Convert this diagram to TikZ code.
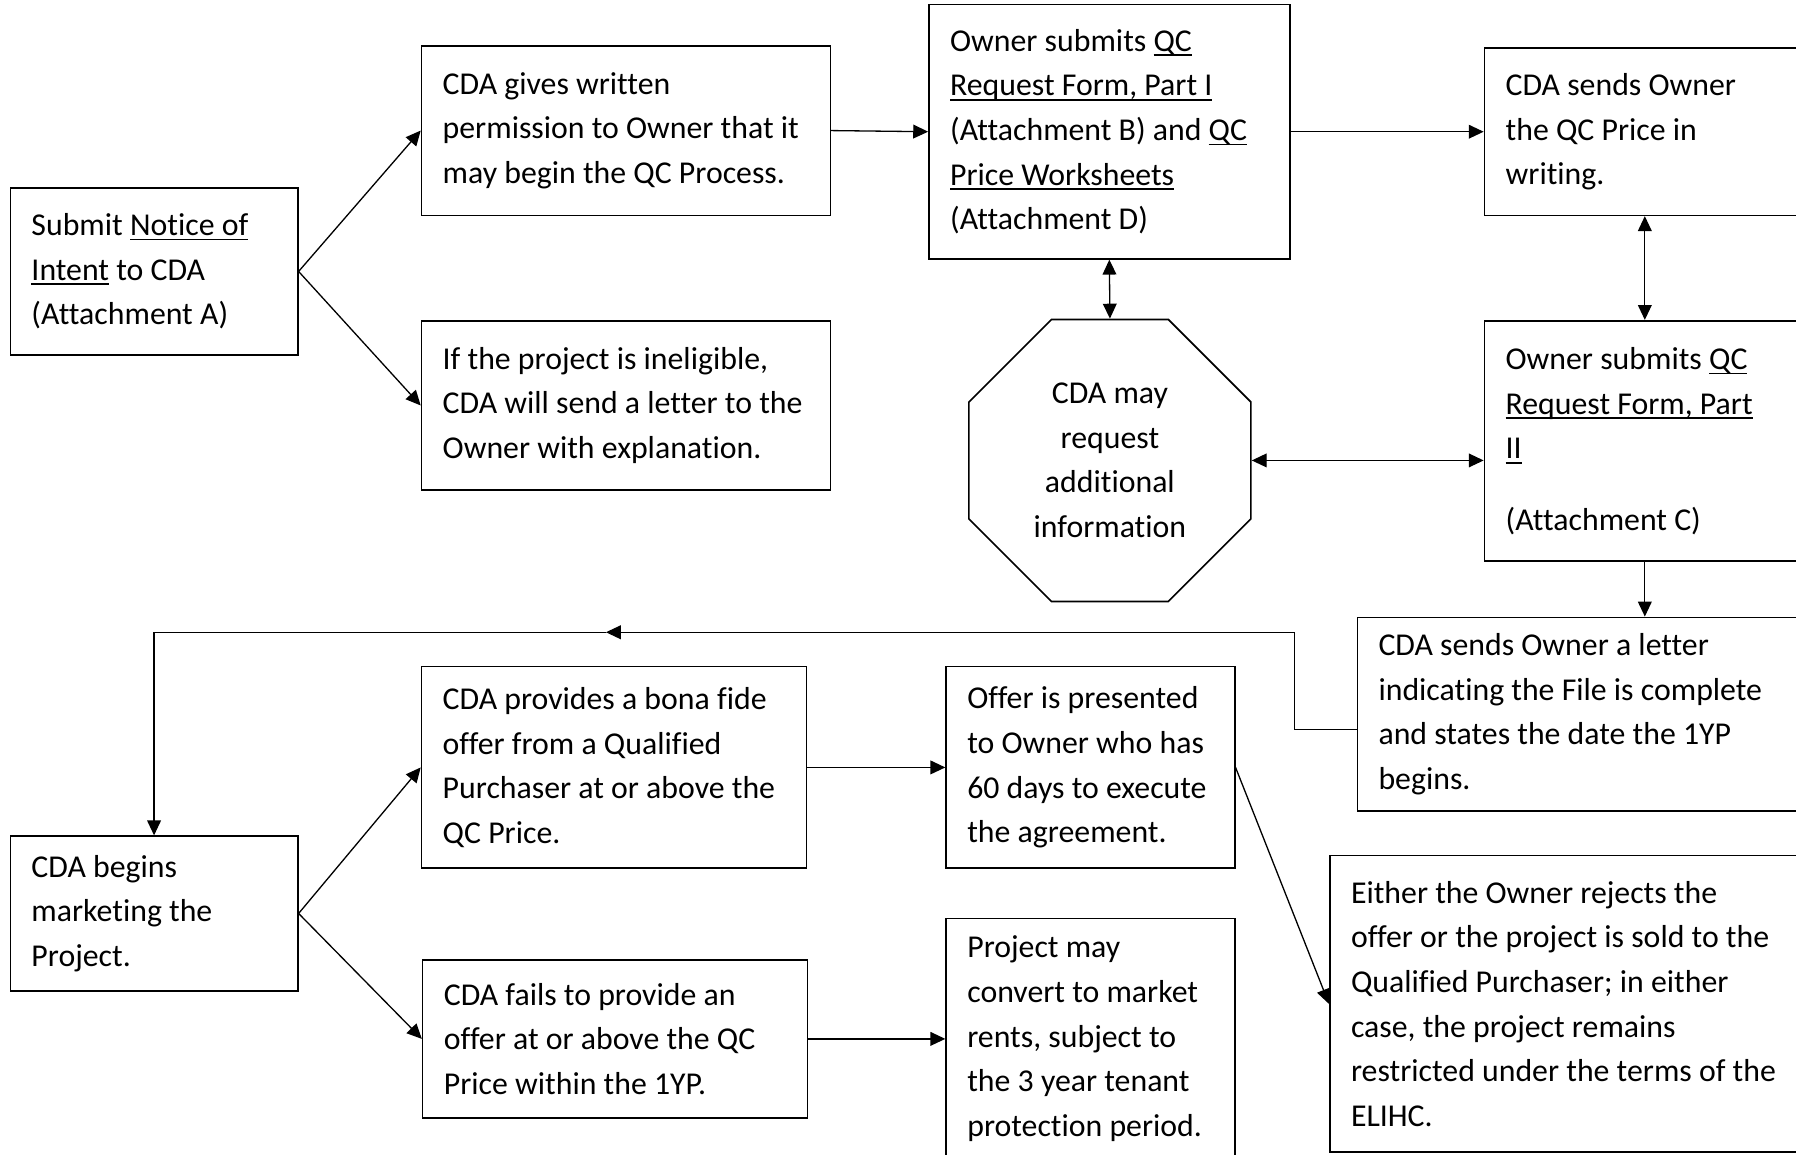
\documentclass[tikz,border=0pt]{standalone}
\usepackage{fontspec}
\setmainfont{Carlito}[Ligatures=NoCommon]
\usetikzlibrary{shapes.geometric,arrows.meta,calc}
\newcommand{\undl}[1]{\leavevmode\setbox0=\hbox{#1}\rlap{\rule[-2.4pt]{\wd0}{0.9pt}}\box0\relax}
\tikzset{
	box/.style={draw, line width=0.8pt, align=left, inner xsep=0.37cm, inner ysep=0.1cm, font=\fontsize{15.8}{22.2}\selectfont, execute at begin node={\spaceskip=0pt\xspaceskip=0pt}},
	link/.style={line width=0.65pt, -{Triangle[length=0.26cm,width=0.24cm]}},
	twoway/.style={line width=0.65pt, {Triangle[length=0.26cm,width=0.24cm]}-{Triangle[length=0.26cm,width=0.24cm]}}
}
\begin{document}
\begin{tikzpicture}
		\useasboundingbox (0, 0) rectangle (31.36, -20.16);
		\clip (0, 0) rectangle (31.36, -20.16);
		
		\node[box, text width=4.28cm, minimum height=2.92cm] (notice) at (2.69, -4.74) {Submit \undl{Notice of}\\\undl{Intent} to CDA\\(Attachment A)};
		\node[box, text width=6.40cm, minimum height=2.96cm] (permit) at (10.93, -2.28) {CDA gives written\\permission to Owner that it\\may begin the QC Process.};
		\node[box, text width=6.40cm, minimum height=2.96cm] (inelig) at (10.93, -7.08) {If the project is ineligible,\\CDA will send a letter to the\\Owner with explanation.};
		\node[box, text width=5.56cm, minimum height=4.44cm] (part1) at (19.37, -2.30) {Owner submits \undl{QC}\\\undl{Request Form, Part I}\\(Attachment B) and \undl{QC}\\\undl{Price Worksheets}\\(Attachment D)};
		\node[box, text width=4.86cm, minimum height=2.92cm] (price) at (28.72, -2.30) {CDA sends Owner\\the QC Price in\\writing.};
		\node[draw, line width=0.8pt, regular polygon, regular polygon sides=8, minimum size=5.33cm, align=center, font=\fontsize{15.8}{22.2}\selectfont] (moreinfo) at (19.38, -8.04) {CDA may\\request\\additional\\information};
		\node[box, text width=4.86cm, minimum height=4.20cm] (part2) at (28.72, -7.70) {Owner submits \undl{QC}\\\undl{Request Form, Part}\\\undl{II}\\[0.46cm](Attachment C)};
		\node[box, text width=9.22cm, minimum height=3.38cm] (complete) at (28.68, -12.47) {CDA sends Owner a letter\\indicating the File is complete\\and states the date the 1YP\\begins.};
		
		\node[box, text width=4.28cm, minimum height=2.70cm] (market) at (2.69, -15.95) {CDA begins\\marketing the\\Project.};
		\node[box, text width=5.98cm, minimum height=3.52cm] (offer) at (10.72, -13.40) {CDA provides a bona fide\\offer from a Qualified\\Purchaser at or above the\\QC Price.};
		\node[box, text width=5.98cm, minimum height=2.76cm] (fails) at (10.74, -18.14) {CDA fails to provide an\\offer at or above the QC\\Price within the 1YP.};
		\node[box, text width=4.30cm, minimum height=3.52cm] (present) at (19.04, -13.40) {Offer is presented\\to Owner who has\\60 days to execute\\the agreement.};
		\node[box, text width=4.30cm, minimum height=4.20cm] (convert) at (19.04, -18.14) {Project may\\convert to market\\rents, subject to\\the 3 year tenant\\protection period.};
		\node[box, text width=7.66cm, minimum height=5.18cm] (either) at (27.42, -17.53) {Either the Owner rejects the\\offer or the project is sold to the\\Qualified Purchaser; in either\\case, the project remains\\restricted under the terms of the\\ELIHC.};
		
		\draw[link] (notice.east) -- (permit.west);
		\draw[link] (notice.east) -- (inelig.west);
		\draw[link] (permit.east) -- (part1.west);
		\draw[link] (part1.east) -- (price.west);
		\draw[twoway] (part1.south) -- (moreinfo.north);
		\draw[twoway] (price.south) -- (part2.north);
		\draw[twoway] (moreinfo.east) -- (moreinfo.east -| part2.west);
		\draw[link] (part2.south) -- (part2.south |- complete.north);
		
		\coordinate (loopR) at (22.60, -11.04);
		\coordinate (loopM) at (10.58, -11.04);
		\draw[line width=0.65pt] ($(complete.west)+(0, -0.27)$) -| (loopR);
		\draw[link] (loopR) -- (loopM);
		\draw[link] (loopM) -| (market.north);
		
		\draw[link] (market.east) -- (offer.west);
		\draw[link] (market.east) -- (fails.west);
		\draw[link] (offer.east) -- (present.west);
		\draw[link] (fails.east) -- (convert.west);
		\draw[link] (present.east) -- (either.west);
	\end{tikzpicture}
\end{document}
